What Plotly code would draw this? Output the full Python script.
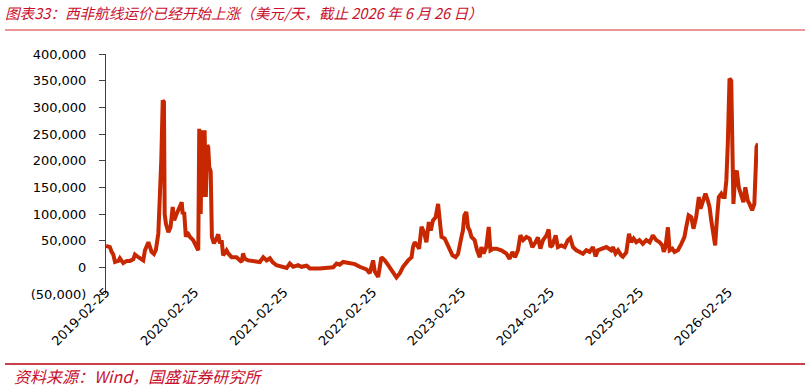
import plotly.graph_objects as go

# ---------------- data ----------------
dates = [
    "2019-02-25", "2019-03-13", "2019-03-20", "2019-03-27", "2019-04-03", "2019-04-17", "2019-04-23", "2019-05-07",
    "2019-05-21", "2019-06-03", "2019-06-17", "2019-06-24", "2019-07-08", "2019-07-28", "2019-08-04", "2019-08-18",
    "2019-08-25", "2019-08-31", "2019-09-10", "2019-09-18", "2019-09-28", "2019-10-05", "2019-10-10", "2019-10-16",
    "2019-10-21", "2019-10-24", "2019-10-29", "2019-11-08", "2019-11-17", "2019-11-26", "2019-12-02", "2019-12-12",
    "2019-12-22", "2020-01-02", "2020-01-06", "2020-01-12", "2020-01-19", "2020-01-25", "2020-02-05", "2020-02-18",
    "2020-03-03", "2020-03-10", "2020-03-14", "2020-03-20", "2020-03-25", "2020-03-30", "2020-04-05", "2020-04-10",
    "2020-04-16", "2020-04-20", "2020-04-24", "2020-04-30", "2020-05-05", "2020-05-13", "2020-05-24", "2020-05-31",
    "2020-06-07", "2020-06-14", "2020-06-20", "2020-07-04", "2020-07-11", "2020-07-25", "2020-08-14", "2020-08-28",
    "2020-09-04", "2020-09-10", "2020-09-17", "2020-10-01", "2020-10-22", "2020-11-18", "2020-12-02", "2020-12-16",
    "2020-12-29", "2021-01-09", "2021-01-25", "2021-02-15", "2021-03-08", "2021-03-21", "2021-04-04", "2021-04-24",
    "2021-05-08", "2021-05-29", "2021-06-11", "2021-07-22", "2021-08-19", "2021-09-15", "2021-09-29", "2021-10-12",
    "2021-10-26", "2021-11-22", "2021-12-13", "2022-01-02", "2022-01-30", "2022-02-12", "2022-02-26", "2022-03-05",
    "2022-03-19", "2022-04-01", "2022-04-15", "2022-04-29", "2022-05-19", "2022-06-02", "2022-06-16", "2022-06-29",
    "2022-07-20", "2022-08-03", "2022-08-09", "2022-08-16", "2022-08-26", "2022-09-03", "2022-09-13", "2022-09-23",
    "2022-10-03", "2022-10-13", "2022-10-21", "2022-10-30", "2022-11-10", "2022-11-20", "2022-11-27", "2022-12-04",
    "2022-12-17", "2022-12-27", "2023-01-07", "2023-01-18", "2023-01-31", "2023-02-10", "2023-02-24", "2023-03-02",
    "2023-03-08", "2023-03-16", "2023-03-23", "2023-03-30", "2023-04-06", "2023-04-19", "2023-04-29", "2023-05-10",
    "2023-05-17", "2023-05-26", "2023-06-06", "2023-06-16", "2023-06-23", "2023-07-04", "2023-07-17", "2023-08-07",
    "2023-08-27", "2023-09-10", "2023-09-21", "2023-10-02", "2023-10-14", "2023-10-24", "2023-11-04", "2023-11-18",
    "2023-12-01", "2023-12-12", "2023-12-25", "2024-01-04", "2024-01-14", "2024-01-25", "2024-02-08", "2024-02-17",
    "2024-02-24", "2024-03-03", "2024-03-17", "2024-03-26", "2024-04-09", "2024-04-23", "2024-05-06", "2024-05-16",
    "2024-05-27", "2024-06-10", "2024-06-23", "2024-07-07", "2024-07-21", "2024-08-03", "2024-08-17", "2024-08-28",
    "2024-09-06", "2024-09-20", "2024-10-11", "2024-10-31", "2024-11-07", "2024-11-18", "2024-11-28", "2024-12-11",
    "2024-12-18", "2025-01-01", "2025-01-12", "2025-01-21", "2025-01-31", "2025-02-11", "2025-02-24", "2025-03-10",
    "2025-03-24", "2025-04-07", "2025-04-20", "2025-05-04", "2025-05-18", "2025-05-29", "2025-06-04", "2025-06-11",
    "2025-06-21", "2025-06-28", "2025-07-09", "2025-07-18", "2025-08-01", "2025-08-15", "2025-08-28", "2025-09-04",
    "2025-09-14", "2025-09-25", "2025-10-04", "2025-10-15", "2025-10-26", "2025-11-02", "2025-11-11", "2025-11-22",
    "2025-12-02", "2025-12-09", "2025-12-16", "2025-12-25", "2026-01-01", "2026-01-08", "2026-01-16", "2026-01-26",
    "2026-02-02", "2026-02-09", "2026-02-16", "2026-02-22", "2026-03-01", "2026-03-08", "2026-03-12", "2026-03-17",
    "2026-03-25", "2026-03-31", "2026-04-08", "2026-04-18", "2026-04-27", "2026-05-05", "2026-05-15", "2026-05-22",
    "2026-06-02", "2026-06-11", "2026-06-20", "2026-06-26",
]
rates = [
    40000, 38000, 29000, 24000, 10000, 12000, 17000, 8000,
    12000, 12000, 15000, 24000, 19000, 13000, 32000, 47000,
    38000, 29000, 25000, 33000, 64000, 125000, 200000, 313000,
    310000, 100000, 82000, 66000, 75000, 113000, 88000, 100000,
    113000, 122000, 100000, 104000, 57000, 66000, 57000, 51000,
    38000, 32000, 260000, 100000, 257000, 132000, 257000, 132000,
    229000, 225000, 188000, 180000, 57000, 45000, 54000, 62000,
    45000, 51000, 22500, 32000, 26000, 19000, 19000, 13000,
    10000, 26000, 16000, 13000, 11000, 10000, 19000, 13000,
    17000, 10000, 4000, 2000, -1000, 7000, 1000, 4000,
    1000, 3000, -2000, -2000, -1000, 0, 7000, 5000,
    10000, 8000, 6000, 1000, -4000, -11000, 13000, -8000,
    -18000, 19000, 13000, 4000, -8000, -19000, -11000, 1000,
    13000, 19000, 38000, 47000, 41000, 35000, 76000, 66000,
    47000, 85000, 69000, 88000, 94000, 119000, 88000, 57000,
    54000, 44000, 35000, 22500, 19000, 25000, 57000, 69000,
    97500, 104000, 75000, 69000, 57000, 51000, 32000, 19000,
    38000, 26000, 38000, 75600, 32000, 35000, 35000, 32000,
    26000, 16000, 29000, 19000, 32000, 60000, 51000, 57000,
    54000, 38000, 47000, 56000, 35000, 51000, 60000, 71000,
    38000, 41000, 60000, 38000, 41000, 38000, 51000, 55000,
    38000, 32000, 29000, 25600, 32000, 29000, 38000, 20600,
    32000, 35000, 38000, 32000, 38000, 26000, 32000, 22500,
    20000, 28000, 63000, 47000, 54000, 47000, 51000, 44000,
    51000, 47000, 60000, 51000, 47000, 41000, 29000, 38000,
    75000, 32000, 35000, 29000, 32000, 44000, 57000, 75000,
    97500, 94000, 72500, 94000, 132000, 110000, 125000, 138000,
    125000, 113000, 88000, 63000, 41000, 88000, 132000, 138000,
    132000, 132000, 163000, 232000, 354000, 350000, 263000, 119000,
    176000, 181000, 150000, 132000, 122000, 150000, 125000, 119000,
    107000, 119000, 226000, 232000,
]

x_tick_vals = ["2019-02-25", "2020-02-25", "2021-02-25", "2022-02-25",
               "2023-02-25", "2024-02-25", "2025-02-25", "2026-02-25"]
x_tick_text = x_tick_vals
y_tick_vals = [-50000, 0, 50000, 100000, 150000, 200000, 250000, 300000, 350000, 400000]
y_tick_text = ["(50,000)", "0", "50,000", "100,000", "150,000", "200,000",
               "250,000", "300,000", "350,000", "400,000"]

title_text = "图表33：西非航线运价已经开始上涨（美元/天，截止 2026 年 6 月 26 日）"
source_text = "资料来源：Wind，国盛证券研究所"

# ---------------- layout geometry ----------------
W, H = 811, 387
ML, MR, MT, MB = 106, 53, 54, 87
PW, PH = W - ML - MR, H - MT - MB


def px_x(px):
    return (px - ML) / PW


def px_y(py):
    return (H - MB - py) / PH


y_range = [-50000, 400000]
dom0 = px_y(294)
zero_pos = dom0 + (0 - y_range[0]) / (y_range[1] - y_range[0]) * (1 - dom0)

tick_font = dict(family="DejaVu Sans", size=13, color="#000000")
red_text = "#C8102E"

fig = go.Figure()
fig.add_trace(go.Scatter(
    x=dates, y=rates, mode="lines",
    line=dict(color="#C82800", width=4),
    hoverinfo="skip", showlegend=False,
))

fig.update_layout(
    width=W, height=H,
    margin=dict(l=ML, r=MR, t=MT, b=MB, pad=0),
    paper_bgcolor="white", plot_bgcolor="white",
    showlegend=False,
    xaxis=dict(
        type="date", range=["2019-02-25", "2026-06-26"],
        anchor="free", position=px_y(281),
        showline=False, showgrid=False, zeroline=False,
        ticks="", tickvals=x_tick_vals, ticktext=x_tick_text,
        tickangle=-45, tickfont=tick_font,
    ),
    xaxis2=dict(
        type="date", matches="x", overlaying="x",
        anchor="free", position=zero_pos,
        showline=True, linecolor="#808080", linewidth=1.2,
        showgrid=False, zeroline=False,
        ticks="outside", ticklen=5, tickcolor="#808080", tickwidth=1,
        tickvals=x_tick_vals, showticklabels=False,
    ),
    yaxis=dict(
        range=y_range, domain=[dom0, 1],
        showline=True, linecolor="#404040", linewidth=1,
        showgrid=False, zeroline=False,
        ticks="outside", ticklen=6, tickcolor="#404040",
        tickvals=y_tick_vals, ticktext=y_tick_text,
        tickfont=tick_font, ticklabelstandoff=10,
    ),
    title=dict(
        text="<i>" + title_text + "</i>",
        font=dict(family="Noto Sans CJK SC", size=14.6, color=red_text),
        xref="container", yref="container",
        x=5 / W, xanchor="left", y=1 - 14 / H, yanchor="middle",
    ),
    annotations=[dict(
        text="<i>" + source_text + "</i>",
        xref="paper", yref="paper", x=px_x(12), y=px_y(376),
        xanchor="left", yanchor="middle", showarrow=False,
        font=dict(family="Noto Sans CJK SC", size=16, color=red_text),
    )],
    shapes=[
        dict(type="line", xref="paper", yref="paper",
             x0=px_x(5), x1=px_x(805), y0=px_y(30), y1=px_y(30),
             line=dict(color="#E57373", width=1.5)),
        dict(type="line", xref="paper", yref="paper",
             x0=px_x(5), x1=px_x(805), y0=px_y(364), y1=px_y(364),
             line=dict(color="#C8404A", width=1.8)),
    ],
)

fig.write_html("out.html")
